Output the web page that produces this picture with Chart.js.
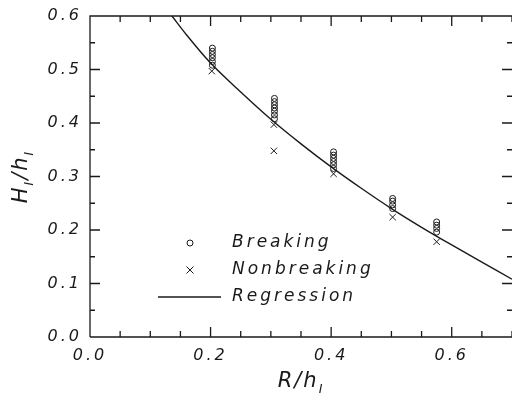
<!DOCTYPE html>
<html lang="en">
<head>
<meta charset="UTF-8">
<title>H/h vs R/h</title>
<script src="https://cdn.jsdelivr.net/npm/chart.js@4.4.1/dist/chart.umd.min.js"></script>
<style>
  html, body { margin: 0; padding: 0; background: #fff; }
  #wrap { width: 512px; height: 406px; }
</style>
</head>
<body>
<div id="wrap"><canvas id="myChart" width="512" height="406"></canvas></div>
<script>
// data
var breakingX = [0.203, 0.203, 0.203, 0.203, 0.203, 0.203,
                 0.306, 0.306, 0.306, 0.306, 0.306, 0.306, 0.306,
                 0.404, 0.404, 0.404, 0.404, 0.404, 0.404,
                 0.502, 0.502, 0.502, 0.502,
                 0.575, 0.575, 0.575, 0.575];
var breakingY = [0.508, 0.515, 0.522, 0.528, 0.534, 0.540,
                 0.408, 0.415, 0.422, 0.428, 0.434, 0.440, 0.446,
                 0.315, 0.322, 0.328, 0.334, 0.340, 0.346,
                 0.240, 0.247, 0.254, 0.259,
                 0.196, 0.203, 0.209, 0.215];
var nonbreakingX = [0.202, 0.305, 0.305, 0.404, 0.502, 0.575];
var nonbreakingY = [0.497, 0.397, 0.348, 0.305, 0.224, 0.178];
var regressionX = [0.136, 0.16, 0.2, 0.25, 0.3, 0.35, 0.4, 0.45, 0.5, 0.55, 0.6, 0.65, 0.7];
var regressionY = [0.600, 0.565, 0.512, 0.458, 0.407, 0.361, 0.318, 0.278, 0.240, 0.205, 0.172, 0.140, 0.108];
var legendLabels = ["Breaking", "Nonbreaking", "Regression"];
var xTitle = ["R/h", "I"];
var yTitle = ["H", "I", "/h", "I"];

var FONT = "'DejaVu Sans', sans-serif";
var INK = "#1a1a1a";

function pts(xs, ys) {
  return xs.map(function (x, i) { return { x: x, y: ys[i] }; });
}

// text with a subscript after each main part
function drawSubText(ctx, parts, x, y, size) {
  var w = 0, i;
  var widths = [];
  for (i = 0; i < parts.length; i++) {
    ctx.font = "italic " + (i % 2 ? size * 0.6 : size) + "px " + FONT;
    widths.push(ctx.measureText(parts[i]).width);
    w += widths[i];
  }
  var cx = x - w / 2;
  for (i = 0; i < parts.length; i++) {
    ctx.font = "italic " + (i % 2 ? size * 0.6 : size) + "px " + FONT;
    ctx.fillText(parts[i], cx, i % 2 ? y + size * 0.35 : y);
    cx += widths[i];
  }
}

var framePlugin = {
  id: "frame",
  beforeDraw: function (chart) {
    chart.ctx.letterSpacing = "3px";
  },
  afterDraw: function (chart) {
    var ctx = chart.ctx, a = chart.chartArea;
    var xs = chart.scales.x, ys = chart.scales.y;
    ctx.save();
    ctx.strokeStyle = INK;
    ctx.lineWidth = 1.3;
    ctx.beginPath();
    // left, top and bottom border
    ctx.moveTo(a.left, a.bottom); ctx.lineTo(a.left, a.top); ctx.lineTo(a.right, a.top);
    ctx.moveTo(a.left, a.bottom); ctx.lineTo(a.right, a.bottom);
    // inward ticks
    var v, p, len;
    for (v = 0; v <= 0.7001; v += 0.05) {
      p = xs.getPixelForValue(v);
      len = Math.abs(v / 0.2 - Math.round(v / 0.2)) < 0.01 ? 10 : 6;
      ctx.moveTo(p, a.bottom); ctx.lineTo(p, a.bottom - len);
      ctx.moveTo(p, a.top); ctx.lineTo(p, a.top + len);
    }
    for (v = 0; v <= 0.6001; v += 0.05) {
      p = ys.getPixelForValue(v);
      len = Math.abs(v / 0.1 - Math.round(v / 0.1)) < 0.01 ? 10 : 5;
      ctx.moveTo(a.left, p); ctx.lineTo(a.left + len, p);
      ctx.moveTo(a.right, p); ctx.lineTo(a.right - len, p);
    }
    ctx.stroke();

    // axis titles
    ctx.fillStyle = INK;
    ctx.textBaseline = "middle";
    ctx.textAlign = "left";
    ctx.letterSpacing = "2px";
    drawSubText(ctx, xTitle, (a.left + a.right) / 2, 382, 21);
    ctx.save();
    ctx.translate(22, (a.top + a.bottom) / 2);
    ctx.rotate(-Math.PI / 2);
    drawSubText(ctx, yTitle, 0, 0, 21);
    ctx.restore();

    // legend inside the plot
    var lx = a.left + 100, tx = a.left + 142, ly = [243, 270, 297];
    ctx.lineWidth = 1;
    ctx.beginPath();
    ctx.arc(lx, ly[0], 3, 0, Math.PI * 2);
    ctx.moveTo(lx - 3.5, ly[1] - 3.5); ctx.lineTo(lx + 3.5, ly[1] + 3.5);
    ctx.moveTo(lx - 3.5, ly[1] + 3.5); ctx.lineTo(lx + 3.5, ly[1] - 3.5);
    ctx.stroke();
    ctx.lineWidth = 1.3;
    ctx.beginPath();
    ctx.moveTo(lx - 32, ly[2]); ctx.lineTo(lx + 31, ly[2]);
    ctx.stroke();
    ctx.letterSpacing = "3px";
    ctx.font = "italic 17px " + FONT;
    legendLabels.forEach(function (t, i) { ctx.fillText(t, tx, ly[i]); });
    ctx.restore();
  }
};

new Chart(document.getElementById("myChart"), {
  type: "scatter",
  data: {
    datasets: [
      {
        label: legendLabels[0],
        data: pts(breakingX, breakingY),
        pointStyle: "circle",
        pointRadius: 3,
        borderColor: INK,
        backgroundColor: "rgba(0,0,0,0)",
        borderWidth: 1
      },
      {
        label: legendLabels[1],
        data: pts(nonbreakingX, nonbreakingY),
        pointStyle: "crossRot",
        pointRadius: 4.5,
        borderColor: INK,
        borderWidth: 1
      },
      {
        label: legendLabels[2],
        type: "line",
        data: pts(regressionX, regressionY),
        showLine: true,
        pointRadius: 0,
        borderColor: INK,
        borderWidth: 1.4,
        cubicInterpolationMode: "monotone",
        fill: false
      }
    ]
  },
  options: {
    responsive: false,
    animation: false,
    layout: { autoPadding: false, padding: { top: 16, right: 0, left: 0, bottom: 0 } },
    plugins: {
      legend: { display: false },
      tooltip: { enabled: false }
    },
    scales: {
      x: {
        type: "linear",
        min: 0, max: 0.7,
        grid: { display: false, drawTicks: false },
        border: { display: false },
        ticks: {
          stepSize: 0.2,
          padding: 9,
          color: INK,
          font: { family: FONT, size: 16, style: "italic" },
          callback: function (v) { return Math.abs(v - 0.7) < 1e-6 ? "" : v.toFixed(1); }
        },
        afterFit: function (s) { s.height = 69; s.paddingRight = 0; s.paddingLeft = 0; }
      },
      y: {
        min: 0, max: 0.6,
        grid: { display: false, drawTicks: false },
        border: { display: false },
        ticks: {
          stepSize: 0.1,
          padding: 8,
          color: INK,
          font: { family: FONT, size: 16, style: "italic" },
          callback: function (v) { return v.toFixed(1); }
        },
        afterFit: function (s) { s.width = 90; s.paddingTop = 0; s.paddingBottom = 0; }
      }
    }
  },
  plugins: [framePlugin]
});
</script>
</body>
</html>
